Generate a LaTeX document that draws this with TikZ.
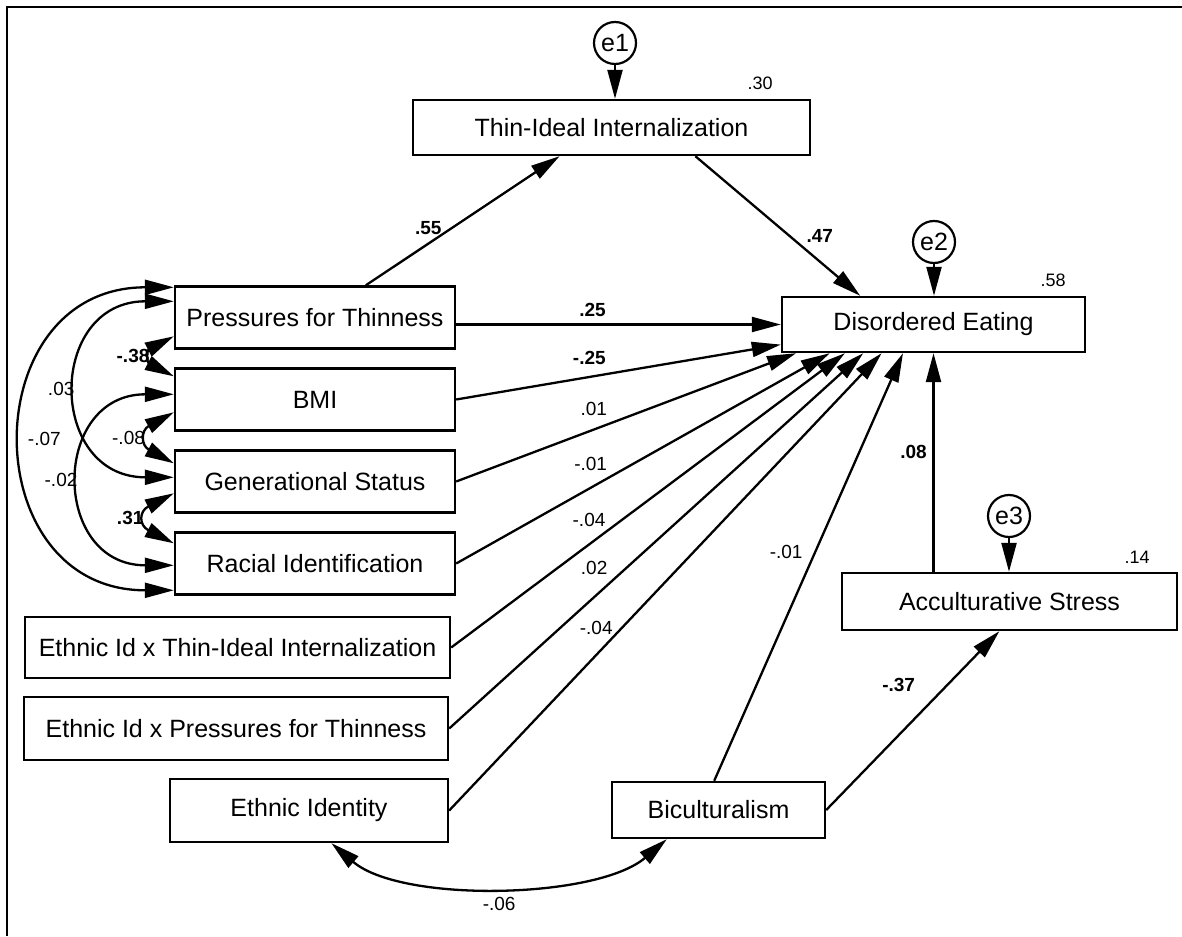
\documentclass[tikz,border=0pt]{standalone}
\usepackage{fontspec}
\setmainfont{Liberation Sans}
\usetikzlibrary{arrows.meta, positioning, calc}

\tikzset{
  var/.style={draw, line width=2.4pt, inner sep=0pt, font=\fontsize{25}{30}\selectfont},
  lbox/.style={var, minimum width=280pt, minimum height=62pt},
  err/.style={draw, circle, line width=2.2pt, minimum size=42pt, inner sep=0pt, font=\fontsize{25}{30}\selectfont},
  coef/.style={font=\fontsize{19}{22}\selectfont, inner sep=1pt},
  bcoef/.style={font=\fontsize{19}{22}\selectfont\bfseries, inner sep=1pt},
  rsq/.style={font=\fontsize{18}{21}\selectfont, inner sep=1pt},
  regr/.style={-{Triangle[length=29pt,width=15pt]}, line width=2.3pt},
  cov/.style={{Triangle[length=29pt,width=15pt]}-{Triangle[length=29pt,width=15pt]}, line width=2.3pt},
}

\begin{document}
\begin{tikzpicture}[x=1pt, y=-1pt, on grid, node distance=82pt]
  \useasboundingbox (0,0) rectangle (1182,936);
  \draw[line width=2.5pt] (7,936) -- (7,7) -- (1182,7);

  % observed variables
  \node (thin) [var, minimum width=397pt, minimum height=55pt] at (611.5,127.5) {Thin-Ideal Internalization};
  \node (de) [var, minimum width=303pt, minimum height=55pt] at (933.5,324.5) {Disordered Eating};
  \node (acc) [var, minimum width=335pt, minimum height=57pt] at (1009.5,601.5) {Acculturative Stress};
  \node (pft) [lbox] at (315,317.5) {Pressures for Thinness};
  \node (bmi) [lbox, below=of pft] {BMI};
  \node (gen) [lbox, below=of bmi] {Generational Status};
  \node (rac) [lbox, below=of gen] {Racial Identification};
  \node (etht) [var, minimum width=425pt, minimum height=61pt] at (237.5,647.5) {Ethnic Id x Thin-Ideal Internalization};
  \node (ethp) [var, minimum width=424pt, minimum height=63pt] at (236,728.5) {Ethnic Id x Pressures for Thinness};
  \node (ethi) [var, minimum width=278pt, minimum height=63pt] at (309,810.5) {Ethnic Identity};
  \node (bic) [var, minimum width=213pt, minimum height=56pt] at (718.5,810) {Biculturalism};

  % error terms and R squared
  \node (e1) [err] at (615,43) {e1};
  \node (e2) [err] at (934,242) {e2};
  \node (e3) [err] at (1009,516) {e3};
  \node (rsq1) [rsq] at (760,83) {.30};
  \node (rsq2) [rsq] at (1053,280) {.58};
  \node (rsq3) [rsq] at (1137,557) {.14};

  % arrow ends
  \coordinate (d1) at ($(de.south west)!.05!(de.south east)$);
  \coordinate (d2) at ($(de.south west)!.16!(de.south east)$);
  \coordinate (d3) at ($(de.south west)!.21!(de.south east)$);
  \coordinate (d4) at ($(de.south west)!.27!(de.south east)$);
  \coordinate (d5) at ($(de.south west)!.33!(de.south east)$);
  \coordinate (d6) at ($(de.south west)!.40!(de.south east)$);
  \coordinate (p1) at ([yshift=-2pt]pft.north west);
  \coordinate (p2) at ([yshift=-16pt]pft.north west);
  \coordinate (p3) at ([yshift=-51pt]pft.north west);
  \coordinate (b1) at ([yshift=-9pt]bmi.north west);
  \coordinate (b2) at ([yshift=-27pt]bmi.north west);
  \coordinate (b3) at ([yshift=-45pt]bmi.north west);
  \coordinate (g1) at ([yshift=-14pt]gen.north west);
  \coordinate (g2) at ([yshift=-28pt]gen.north west);
  \coordinate (g3) at ([yshift=-44pt]gen.north west);
  \coordinate (r1) at ([yshift=-12pt]rac.north west);
  \coordinate (r2) at ([yshift=-34pt]rac.north west);
  \coordinate (r3) at ([yshift=-59pt]rac.north west);

  \path[regr]
    (e1) edge (e1 |- thin.north)
    (e2) edge (e2 |- de.north)
    (e3) edge (e3 |- acc.north)
    ($(pft.north west)!.68!(pft.north east)$) edge node[bcoef, pos=.4, xshift=-15pt, yshift=6pt] {.55} ($(thin.south west)!.37!(thin.south east)$)
    ($(thin.south west)!.71!(thin.south east)$) edge node[bcoef, pos=.5, xshift=42pt, yshift=-10pt] {.47} ($(de.north west)!.26!(de.north east)$)
    (pft.east |- de.west) edge node[bcoef, pos=.42, yshift=15pt] {.25} (de.west)
    (bmi.east) edge node[bcoef, pos=.41, yshift=19pt] {-.25} ($(de.south west)!.15!(de.north west)$)
    (gen.east) edge node[coef, pos=.405, yshift=21pt] {.01} (d1)
    (rac.east) edge node[coef, pos=.36, yshift=24pt] {-.01} (d2)
    (etht.east) edge node[coef, pos=.35, yshift=25pt] {-.04} (d3)
    (ethp.east) edge node[coef, pos=.35, yshift=29pt] {.02} (d4)
    (ethi.east) edge node[coef, pos=.34, yshift=27pt] {-.04} (d5)
    ($(bic.north west)!.48!(bic.north east)$) edge node[coef, pos=.535, xshift=-29pt] {-.01} (d6)
    (de.south |- acc.north) edge node[bcoef, pos=.55, xshift=-20pt] {.08} (de.south)
    (bic.east) edge node[bcoef, pos=.43, xshift=-2pt, yshift=48pt] {-.37} ($(acc.south west)!.47!(acc.south east)$);

  % covariances
  \draw[cov] (p1) .. controls +(-200,0) and +(-200,0) .. (r3) node[coef, midway, right=2pt] {-.07};
  \draw[cov] (p2) .. controls +(-127,0) and +(-127,0) .. (g2) node[coef, midway, left=2pt] {.03};
  \draw[cov] (b2) .. controls +(-123,0) and +(-123,0) .. (r2) node[coef, midway, left=2pt] {-.02};
  \draw[cov] (p3) .. controls +(-27,14) and +(-27,-14) .. (b1) node[bcoef, midway, left=2pt] {-.38};
  \draw[cov] (b3) .. controls +(-33,18) and +(-33,-18) .. (g1) node[coef, midway, left=2pt] {-.08};
  \draw[cov] (g3) .. controls +(-35,18) and +(-35,-18) .. (r1) node[bcoef, midway, left=2pt] {.31};
  \draw[cov] ($(ethi.south west)!.58!(ethi.south east)$) .. controls +(70,60) and +(-70,60) .. ($(bic.south west)!.26!(bic.south east)$) node[coef, midway, yshift=-18pt] {-.06};
\end{tikzpicture}
\end{document}
